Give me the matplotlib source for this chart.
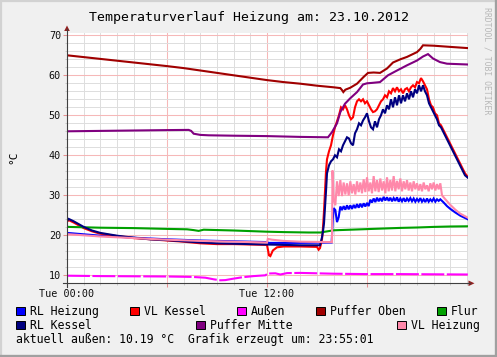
import matplotlib
matplotlib.use('Agg')
import matplotlib.pyplot as plt
from matplotlib.patches import Rectangle, Polygon
from matplotlib.lines import Line2D

W, H = 497, 357
MONO = 'DejaVu Sans Mono'

# ---------------- data (hours since 00:00, °C) ----------------
title = 'Temperaturverlauf Heizung am: 23.10.2012'
xtick_pos = [0, 12]
xtick_labels = ['Tue 00:00', 'Tue 12:00']
ytick_vals = [10, 20, 30, 40, 50, 60, 70]

t_rl_heizung = [0, 2, 4, 6, 8, 10, 12, 12.1, 14, 15.88, 15.95, 16.0, 16.1, 16.2, 16.3,
                16.4, 16.5, 16.6, 16.7, 16.8, 16.9, 17.0, 17.1, 17.2, 17.3, 17.4, 17.5, 17.6, 17.7, 17.8, 17.9,
                18.0, 18.1, 18.2, 18.3, 18.4, 18.5, 18.6, 18.7, 18.8, 18.9, 19.0, 19.1, 19.2, 19.3, 19.4, 19.5,
                19.6, 19.7, 19.8, 19.9, 20.0, 20.1, 20.2, 20.3, 20.4, 20.5, 20.6, 20.7, 20.8, 20.9, 21.0, 21.1,
                21.2, 21.3, 21.4, 21.5, 21.6, 21.7, 21.8, 21.9, 22.0, 22.1, 22.2, 22.3, 22.4,
                22.6, 22.8, 23.0, 23.3, 23.6, 24.05]
v_rl_heizung = [20.6, 19.9, 19.4, 19.0, 18.7, 18.5, 18.3, 18.1, 18.1, 18.2, 24.3, 26.8, 26.3, 23.3, 24.5,
                27.2, 26.3, 27.3, 26.4, 27.5, 26.5, 27.5, 26.6, 27.6, 26.8, 27.8, 26.9, 27.9, 27.0, 28.0, 27.2,
                28.1, 27.3, 28.9, 28.2, 29.2, 28.3, 29.4, 28.5, 29.3, 28.5, 29.6, 28.7, 29.5, 28.6, 29.4, 28.5,
                29.3, 28.6, 29.5, 28.4, 29.2, 28.5, 29.3, 28.4, 29.2, 28.6, 29.3, 28.5, 29.2, 28.4, 29.1, 28.5,
                29.3, 28.4, 29.0, 28.3, 29.2, 28.4, 29.0, 28.5, 29.2, 28.4, 29.0, 28.6, 29.0,
                28.2, 27.3, 26.6, 25.7, 24.9, 24.0]

t_vl_kessel = [0, 0.1, 0.4, 1, 1.5, 2, 3, 4, 5, 6, 7, 8, 9, 10, 11, 12, 12.12, 12.2, 12.35, 12.6, 13, 14,
               15.0, 15.1, 15.18, 15.3, 15.36, 15.42, 15.48, 15.54,
               15.6, 15.72, 15.84, 15.96, 16.08, 16.2, 16.32, 16.44, 16.56, 16.68, 16.8, 16.92, 17.04, 17.16,
               17.28, 17.4, 17.52, 17.64, 17.76, 17.88, 18.0, 18.12, 18.24, 18.36, 18.48, 18.6, 18.72, 18.84,
               18.96, 19.08, 19.2, 19.32, 19.44, 19.56, 19.68, 19.8, 19.92, 20.04, 20.16, 20.28, 20.4, 20.52,
               20.64, 20.76, 20.88, 21.0, 21.12, 21.24, 21.36, 21.48, 21.6, 21.72, 21.84, 21.96, 22.08, 22.2,
               22.32, 22.44, 22.56, 22.68, 22.8,
               22.98, 23.16, 23.34, 23.52, 23.7, 23.88, 24.05]
v_vl_kessel = [23.4, 23.8, 23.2, 21.8, 21.0, 20.4, 19.8, 19.3, 19.0, 18.7, 18.4, 18.0, 17.8, 17.8, 17.7, 17.6,
               15.0, 14.8, 16.2, 17.0, 17.2, 17.2, 17.1, 16.4, 16.8, 19.0, 22.0, 26.0, 31.0, 36.0,
               39.0, 41.0, 42.5, 45.0, 47.0, 48.5, 50.0, 52.0, 51.5, 52.5, 51.5, 50.0, 49.0, 49.5,
               52.0, 53.5, 54.0, 53.5, 54.0, 53.0, 53.5, 52.5, 51.5, 50.8, 51.0, 51.5, 52.5, 53.5,
               54.0, 55.0, 54.5, 56.0, 55.5, 56.8, 56.0, 57.0, 56.0, 56.5, 55.5, 56.5, 56.8, 56.0,
               57.0, 57.5, 57.0, 58.3, 58.0, 59.3, 58.5, 57.5, 56.5, 54.0, 52.5, 52.0, 50.5, 50.0,
               48.0, 47.5, 46.5, 45.5, 44.5,
               43.0, 41.5, 40.0, 38.5, 37.0, 35.5, 34.6]

t_aussen = [0, 2, 4, 6, 7.5, 8.3, 8.8, 9.2, 9.5, 9.9, 10.5, 11.2, 11.9, 12.05, 12.5, 12.8, 13.2, 14,
            15, 16, 18, 20, 22, 24.05]
v_aussen = [9.9, 9.8, 9.75, 9.7, 9.6, 9.4, 9.0, 8.75, 8.8, 9.1, 9.5, 9.8, 10.0, 10.45, 10.5, 10.2, 10.55,
            10.6, 10.5, 10.4, 10.3, 10.3, 10.25, 10.2]

t_puffer_oben = [0, 2, 4, 6, 7, 8, 9, 10, 11, 12, 13, 14, 15, 16, 16.4, 16.5, 16.58, 16.7, 17.0, 17.4,
                 17.8, 18.06, 18.4, 18.78, 19.2, 19.56, 20.0, 20.4, 21.0, 21.2, 21.36, 22.0, 23.0, 24.05]
v_puffer_oben = [65.0, 64.1, 63.2, 62.3, 61.8, 61.2, 60.6, 60.0, 59.4, 58.8, 58.3, 57.9, 57.4, 57.0, 56.8,
                 56.3, 55.8, 56.4, 56.9, 57.9, 59.6, 60.6, 60.7, 60.6, 61.7, 63.2, 64.0, 64.6, 65.8, 66.6,
                 67.5, 67.4, 67.1, 66.8]

t_flur = [0, 0.05, 2, 4, 6, 7.2, 7.6, 7.9, 8.2, 10, 12, 13, 14.5, 15.2, 16, 17, 18, 19, 20, 21, 22, 23, 24.05]
v_flur = [22.3, 22.1, 21.9, 21.8, 21.6, 21.5, 21.3, 21.1, 21.4, 21.2, 20.9, 20.8, 20.7, 20.7, 21.25, 21.4,
          21.55, 21.7, 21.85, 21.95, 22.1, 22.2, 22.25]

t_rl_kessel = [0, 0.1, 0.4, 1, 1.5, 2, 3, 4, 5, 6, 7, 8, 9, 10, 11, 12, 13, 14, 15.18, 15.3, 15.36, 15.42,
               15.48, 15.54,
               15.6, 15.72, 15.84, 15.96, 16.08, 16.2, 16.32, 16.44, 16.56, 16.68, 16.8, 16.92, 17.04, 17.16,
               17.28, 17.4, 17.52, 17.64, 17.76, 17.88, 18.0, 18.12, 18.24, 18.36, 18.48, 18.6, 18.72, 18.84,
               18.96, 19.08, 19.2, 19.32, 19.44, 19.56, 19.68, 19.8, 19.92, 20.04, 20.16, 20.28, 20.4, 20.52,
               20.64, 20.76, 20.88, 21.0, 21.12, 21.24, 21.36, 21.48, 21.6, 21.72, 21.84, 21.96, 22.08, 22.2,
               22.32, 22.44, 22.56, 22.68, 22.8,
               22.98, 23.16, 23.34, 23.52, 23.7, 23.88, 24.05]
v_rl_kessel = [23.6, 24.1, 23.5, 22.1, 21.2, 20.6, 19.9, 19.4, 19.0, 18.8, 18.5, 18.2, 18.0, 17.9, 17.8, 17.7,
               17.6, 17.5, 17.5, 19.5, 21.0, 23.0, 27.0, 31.0,
               35.5, 37.5, 38.5, 39.0, 40.0, 39.5, 41.5, 41.0, 42.5, 43.5, 44.5, 44.2, 43.0, 42.5,
               45.5, 46.5, 48.0, 47.5, 48.7, 49.5, 50.5, 48.5, 47.0, 46.5, 48.5, 47.0, 49.0, 50.0,
               51.5, 50.5, 52.5, 51.5, 54.0, 52.0, 54.5, 52.5, 55.0, 53.0, 55.0, 53.5, 55.5, 54.0,
               56.0, 54.5, 56.5, 55.5, 57.5, 56.0, 57.5, 56.0, 55.0, 53.0, 52.0, 51.0, 50.0, 49.0,
               47.5, 47.0, 46.0, 45.0, 44.0,
               42.5, 41.0, 39.5, 38.0, 36.5, 35.0, 34.4]

t_puffer_mitte = [0, 2, 4, 6, 7.3, 7.45, 7.6, 8.0, 8.5, 10, 12, 14, 15.66, 15.9, 16.2, 16.4, 16.68, 16.98,
                  17.4, 17.76, 18.0, 18.3, 18.78, 19.26, 19.8, 20.4, 21.0, 21.36, 21.66, 21.96, 22.38, 22.8,
                  24.05]
v_puffer_mitte = [46.0, 46.1, 46.2, 46.3, 46.35, 46.1, 45.4, 45.1, 45.0, 44.9, 44.8, 44.6, 44.5, 45.8,
                  48.0, 50.8, 52.9, 54.2, 55.8, 57.7, 58.0, 58.1, 58.3, 60.0, 61.2, 62.5, 63.7, 64.7, 65.3,
                  64.2, 63.3, 62.9, 62.7]

t_vl_heizung = [0, 2, 4, 6, 8, 10, 12.0, 12.05, 12.3, 13, 14, 15.9, 15.93,
                16.0, 16.1, 16.2, 16.3, 16.4, 16.5, 16.6, 16.7, 16.8, 16.9, 17.0, 17.1, 17.2, 17.3, 17.4, 17.5,
                17.6, 17.7, 17.8, 17.9, 18.0, 18.1, 18.2, 18.3, 18.4, 18.5, 18.6, 18.7, 18.8, 18.9, 19.0, 19.1,
                19.2, 19.3, 19.4, 19.5, 19.6, 19.7, 19.8, 19.9, 20.0, 20.1, 20.2, 20.3, 20.4, 20.5, 20.6, 20.7,
                20.8, 20.9, 21.0, 21.1, 21.2, 21.3, 21.4, 21.5, 21.6, 21.7, 21.8, 21.9, 22.0, 22.1, 22.2, 22.3,
                22.4, 22.5, 22.7, 23.0, 23.3, 23.6, 24.05]
v_vl_heizung = [20.3, 19.7, 19.3, 18.9, 18.6, 18.4, 18.2, 19.1, 18.9, 18.6, 18.4, 18.3, 36.2,
                29.0, 27.5, 33.5, 29.8, 33.8, 29.8, 33.2, 30.2, 33.0, 30.0, 33.5, 30.5, 32.8, 30.2, 33.5, 30.8,
                33.2, 30.5, 34.0, 30.8, 34.5, 31.0, 33.2, 30.5, 34.8, 31.0, 33.8, 30.8, 34.2, 31.2, 33.5, 30.5,
                34.5, 31.0, 33.8, 31.2, 34.8, 31.0, 33.6, 31.5, 34.2, 31.0, 33.5, 31.5, 33.8, 31.2, 33.2, 31.0,
                33.5, 31.5, 33.0, 31.2, 32.8, 31.0, 33.2, 31.5, 32.5, 31.0, 33.0, 31.5, 33.2, 31.2, 32.8, 31.5,
                33.0, 30.0, 29.0, 27.6, 26.4, 25.4, 24.4]

aktuell_aussen = '10.19'
erzeugt_um = '23:55:01'

series = [
    ('RL Heizung', t_rl_heizung, v_rl_heizung, '#0000FF'),
    ('VL Kessel', t_vl_kessel, v_vl_kessel, '#FF0000'),
    ('Außen', t_aussen, v_aussen, '#FF00FF'),
    ('Puffer Oben', t_puffer_oben, v_puffer_oben, '#A00000'),
    ('Flur', t_flur, v_flur, '#00A000'),
    ('RL Kessel', t_rl_kessel, v_rl_kessel, '#000080'),
    ('Puffer Mitte', t_puffer_mitte, v_puffer_mitte, '#800080'),
    ('VL Heizung', t_vl_heizung, v_vl_heizung, '#FF88AA'),
]

# ---------------- figure ----------------
fig = plt.figure(figsize=(W / 100, H / 100), dpi=100, facecolor='#F0F0F0')


def fx(x):
    return x / W


def fy(y):
    return 1 - y / H


X0, X1, YB, YT = 67, 468, 283.3, 33.3
ax = fig.add_axes([fx(X0), fy(YB), (X1 - X0) / W, (YB - YT) / H])
ax.set_facecolor('white')
ax.set_xlim(0, 24.06)
ax.set_ylim(8, 70.5)

ax.set_xticks([0, 6, 12, 18])
ax.set_xticklabels(['Tue 00:00', '', 'Tue 12:00', ''])
ax.set_xticks(list(range(0, 25)), minor=True)
ax.set_yticks(ytick_vals)
ax.set_yticks(list(range(8, 71, 2)), minor=True)
ax.grid(which='major', color='#F6B8B8', lw=0.75)
ax.grid(which='minor', color='#DEDEDE', lw=0.72)
ax.set_axisbelow(True)
for s in ax.spines.values():
    s.set_visible(False)
ax.tick_params(which='major', length=3, width=0.75, color='#E89090', pad=1.3,
               labelsize=7.3, labelcolor='#101010')
ax.tick_params(which='minor', length=1.5, width=0.7, color='#C8C8C8')
for lab in ax.get_xticklabels() + ax.get_yticklabels():
    lab.set_family(MONO)

for i, (name, t, v, c) in enumerate(series):
    kw = {}
    if name == 'Außen':
        kw['linestyle'] = (0, (11, 1.2))
    ax.plot(t, v, color=c, lw=1.5, zorder=3 + i, solid_joinstyle='miter', **kw)

# axes lines and arrows (figure pixel coords)
axis_c = '#404040'
arrow_c = '#902020'
fig.add_artist(Line2D([fx(X0), fx(X0)], [fy(287), fy(29)], color=axis_c, lw=0.8))
fig.add_artist(Line2D([fx(63), fx(470)], [fy(YB), fy(YB)], color=axis_c, lw=0.8))
fig.add_artist(Polygon([(fx(X0 - 2.8), fy(31)), (fx(X0 + 2.8), fy(31)), (fx(X0), fy(25.5))],
                       closed=True, color=arrow_c, lw=0))
fig.add_artist(Polygon([(fx(468.5), fy(YB - 2.8)), (fx(468.5), fy(YB + 2.8)), (fx(474.5), fy(YB))],
                       closed=True, color=arrow_c, lw=0))

# border (3D shade)
fig.add_artist(Line2D([fx(0.5), fx(0.5)], [fy(0), fy(H)], color='#D2D2D2', lw=1.6))
fig.add_artist(Line2D([fx(0), fx(W)], [fy(0.5), fy(0.5)], color='#D2D2D2', lw=1.6))
fig.add_artist(Line2D([fx(W - 1.5), fx(W - 1.5)], [fy(0), fy(H)], color='#A0A0A0', lw=2.4))
fig.add_artist(Line2D([fx(0), fx(W)], [fy(H - 1.5), fy(H - 1.5)], color='#A0A0A0', lw=2.4))

# title, axis label, watermark
fig.text(fx(249), fy(21.5), title, ha='center', va='baseline', fontsize=9.5, family=MONO, color='#000000')
fig.text(fx(13), fy(157), '°C', ha='center', va='center', rotation=90, fontsize=8, family=MONO)
fig.text(fx(487), fy(61), 'RRDTOOL / TOBI OETIKER', ha='center', va='center', rotation=270,
         fontsize=5.9, family=MONO, color='#B8B8B8')

# legend
legend_pos = {
    'RL Heizung': (16, 315), 'VL Kessel': (130, 315), 'Außen': (237, 315),
    'Puffer Oben': (316, 315), 'Flur': (437, 315),
    'RL Kessel': (16, 329), 'Puffer Mitte': (196, 329), 'VL Heizung': (397, 329),
}
for name, t, v, c in series:
    lx, ly = legend_pos[name]
    fig.add_artist(Rectangle((fx(lx), fy(ly)), 8.5 / W, 8.5 / H, facecolor=c, edgecolor='black', lw=0.7))
    fig.text(fx(lx + 14), fy(ly), name, ha='left', va='baseline', fontsize=8.3, family=MONO)

fig.text(fx(16), fy(343), f'aktuell außen: {aktuell_aussen} °C  Grafik erzeugt um: {erzeugt_um}',
         ha='left', va='baseline', fontsize=8.3, family=MONO)

fig.savefig('out.png', dpi=100, facecolor=fig.get_facecolor())
